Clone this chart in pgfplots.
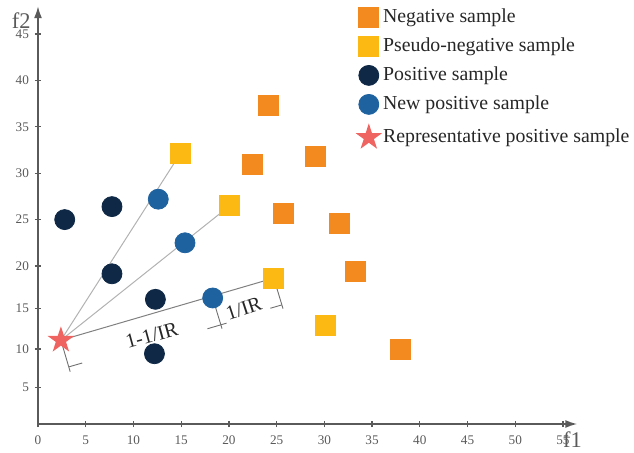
\documentclass[border=0pt]{standalone}
\usepackage{fontspec}
\setmainfont{Liberation Serif}
\usepackage{pgfplots}
\pgfplotsset{compat=1.18}
\usetikzlibrary{arrows.meta}
\definecolor{negc}{HTML}{F28A20}
\definecolor{pseudoc}{HTML}{FDB913}
\definecolor{posc}{HTML}{0E2846}
\definecolor{newc}{HTML}{1F62A0}
\definecolor{repc}{HTML}{EF6461}
\definecolor{axc}{HTML}{5A5A5A}
\definecolor{dimc}{HTML}{707070}
\pgfdeclareplotmark{fstar}{%
  \pgfpathmoveto{\pgfpointpolar{90}{\pgfplotmarksize}}%
  \pgfpathlineto{\pgfpointpolar{126}{0.382\pgfplotmarksize}}%
  \pgfpathlineto{\pgfpointpolar{162}{\pgfplotmarksize}}%
  \pgfpathlineto{\pgfpointpolar{198}{0.382\pgfplotmarksize}}%
  \pgfpathlineto{\pgfpointpolar{234}{\pgfplotmarksize}}%
  \pgfpathlineto{\pgfpointpolar{270}{0.382\pgfplotmarksize}}%
  \pgfpathlineto{\pgfpointpolar{306}{\pgfplotmarksize}}%
  \pgfpathlineto{\pgfpointpolar{342}{0.382\pgfplotmarksize}}%
  \pgfpathlineto{\pgfpointpolar{18}{\pgfplotmarksize}}%
  \pgfpathlineto{\pgfpointpolar{54}{0.382\pgfplotmarksize}}%
  \pgfpathclose
  \pgfusepathqfill}
\pgfplotsset{
  pts/.style={only marks, mark options={draw=#1, fill=#1},
    legend image code/.code={\draw[##1] plot coordinates {(5pt,0pt)};}},
}
\begin{document}
\begin{tikzpicture}
\useasboundingbox (-19pt,-14pt) rectangle (298pt,212pt);
\begin{axis}[
  at={(0pt,0pt)}, anchor=south west,
  x=4.7727pt, y=0.5pt,
  xmin=0, xmax=56.5, ymin=0, ymax=48,
  y coord trafo/.code={\pgfmathparse{ifthenelse(#1<20, 7.1*#1+0.04*#1*#1, 158+9.28*(#1-20))}},
  axis lines=left,
  axis line style={line width=0.9pt, color=axc},
  x axis line style={-{Latex[length=6pt,width=4pt]}},
  y axis line style={-{Latex[length=6pt,width=4pt]}},
  clip=false,
  xtick={0,5,10,15,20,25,30,35,40,45,50,55},
  xticklabels={0,5,10,15,20,25,30,35,40,45,50,55},
  ytick={5,10,15,20,25,30,35,40,45},
  yticklabels={5,10,15,20,25,30,35,40,45},
  tick align=center,
  major tick length=3pt,
  tick style={color=axc, line width=0.6pt},
  ticklabel style={font=\fontsize{6.6}{7}\selectfont, text=axc},
  xticklabel style={yshift=-0.8pt},
  yticklabel style={xshift=0.5pt},
  xlabel={f1}, ylabel={f2},
  xlabel style={at={(rel axis cs:1,0)}, anchor=north east, inner sep=0pt, xshift=2.5pt, yshift=-3.8pt, font=\fontsize{11.2}{12}\selectfont, text=axc},
  ylabel style={at={(rel axis cs:0,1)}, anchor=north east, rotate=-90, inner sep=0pt, xshift=-3.5pt, yshift=-3pt, font=\fontsize{11.2}{12}\selectfont, text=axc},
  legend style={at={(axis description cs:0.588,0.998)}, anchor=north west, draw=none, fill=none, inner sep=0pt, row sep=4.5pt,
    font=\fontsize{9.9}{11}\selectfont, text=black!85,
    nodes={inner sep=0.5pt},
    /tikz/every even column/.append style={column sep=6pt}},
  legend cell align=left,
]
% Negative samples
\addplot[pts=negc, mark=square*, mark size=5pt] coordinates {
  (24.1,37.35) (22.5,31.0) (29.1,31.85) (25.7,25.7) (31.6,24.6) (33.2,19.4) (38.0,10.0)};
\addlegendentry{Negative sample}
% Pseudo-negative samples
\addplot[pts=pseudoc, mark=square*, mark size=5pt] coordinates {
  (14.9,32.1) (20.1,26.5) (24.7,18.6) (30.1,13.0)};
\addlegendentry{Pseudo-negative sample}
% lines from representative sample
\addplot[forget plot, draw=black!30, line width=0.5pt] coordinates {(2.4,11.1) (14.9,32.1)};
\addplot[forget plot, draw=black!30, line width=0.5pt] coordinates {(2.4,11.1) (20.1,26.5)};
\addplot[forget plot, draw=black!50, line width=0.5pt] coordinates {(2.4,11.1) (24.7,18.6)};
% dimension marks
\addplot[forget plot, draw=dimc, line width=0.45pt] coordinates {(2.4,11.1) (3.37,7.09)};
\addplot[forget plot, draw=dimc, line width=0.45pt] coordinates {(3.23,7.71) (4.63,8.21)};
\addplot[forget plot, draw=dimc, line width=0.45pt] coordinates {(18.3,16.26) (19.28,12.54)};
\addplot[forget plot, draw=dimc, line width=0.45pt] coordinates {(17.75,12.53) (19.76,13.22)};
\addplot[forget plot, draw=dimc, line width=0.45pt] coordinates {(24.7,18.6) (25.67,14.98)};
\addplot[forget plot, draw=dimc, line width=0.45pt] coordinates {(24.34,15.03) (25.54,15.43)};
\addplot[forget plot, draw=none] coordinates {(3.23,7.71) (19.15,13.0)}
  node[pos=0.56, sloped, above, inner sep=0.5pt, font=\fontsize{10.2}{11}\selectfont, text=black!85] {1-1/IR};
\addplot[forget plot, draw=none] coordinates {(19.15,13.0) (25.54,15.43)}
  node[pos=0.42, sloped, above, inner sep=0.5pt, font=\fontsize{10.2}{11}\selectfont, text=black!85] {1/IR};
% Positive samples
\addplot[pts=posc, mark=*, mark size=5pt] coordinates {
  (2.8,25.0) (7.75,26.4) (7.75,19.1) (12.3,16.1) (12.2,9.4)};
\addlegendentry{Positive sample}
% New positive samples
\addplot[pts=newc, mark=*, mark size=5pt] coordinates {
  (12.6,27.2) (15.4,22.5) (18.3,16.26)};
\addlegendentry{New positive sample}
% Representative positive sample
\addplot[pts=repc, mark=fstar, mark size=7pt] coordinates {(2.4,11.1)};
\addlegendentry{Representative positive sample}
\end{axis}
\end{tikzpicture}
\end{document}
